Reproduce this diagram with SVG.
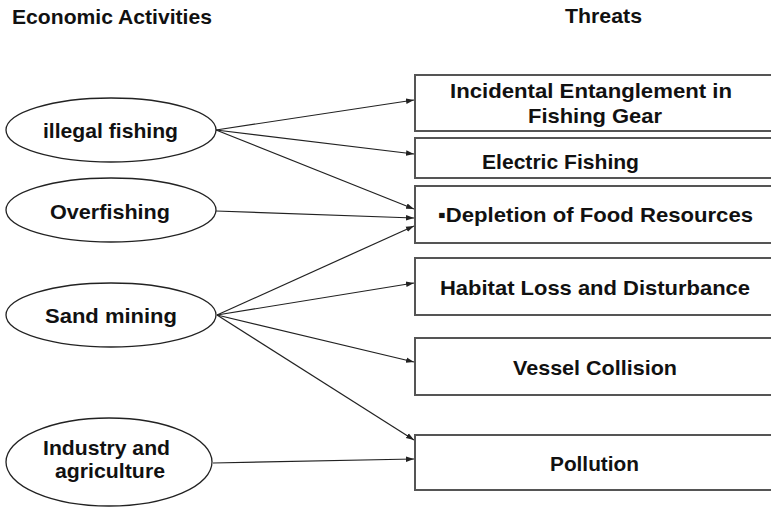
<svg xmlns="http://www.w3.org/2000/svg" width="771" height="510" viewBox="0 0 771 510">
<style>
text{font-family:"Liberation Sans",Arial,sans-serif;font-weight:bold;font-size:21px;fill:#111;}
.ell{fill:#fff;stroke:#222;stroke-width:1.3;}
.box{fill:#fff;stroke:#555;stroke-width:2;}
.con{stroke:#222;stroke-width:1.2;fill:none;marker-end:url(#ah);}
</style>
<defs>
<marker id="ah" viewBox="0 0 10 10" refX="10" refY="5" markerWidth="8" markerHeight="8" markerUnits="userSpaceOnUse" orient="auto">
<path d="M0,1.5 L10,5 L0,8.5 Z" fill="#222"/>
</marker>
</defs>
<rect width="771" height="510" fill="#fff"/>
<g id="headers">
<text x="12" y="24" textLength="200" lengthAdjust="spacingAndGlyphs">Economic Activities</text>
<text x="565" y="23" textLength="77" lengthAdjust="spacingAndGlyphs">Threats</text>
</g>
<g id="connectors">
<line class="con" x1="216" y1="130" x2="414" y2="100"/>
<line class="con" x1="216" y1="130" x2="414" y2="154"/>
<line class="con" x1="216" y1="130" x2="414" y2="209"/>
<line class="con" x1="216" y1="211" x2="414" y2="218"/>
<line class="con" x1="217" y1="315" x2="414" y2="226"/>
<line class="con" x1="217" y1="315" x2="414" y2="283"/>
<line class="con" x1="217" y1="315" x2="414" y2="362"/>
<line class="con" x1="217" y1="315" x2="414" y2="440"/>
<line class="con" x1="213" y1="463" x2="414" y2="459"/>
</g>
<g id="act-illegal">
<ellipse class="ell" cx="111" cy="130" rx="105" ry="32"/>
<text x="43" y="138" textLength="135" lengthAdjust="spacingAndGlyphs">illegal fishing</text>
</g>
<g id="act-overfishing">
<ellipse class="ell" cx="111" cy="210" rx="105" ry="32"/>
<text x="50" y="219" textLength="120" lengthAdjust="spacingAndGlyphs">Overfishing</text>
</g>
<g id="act-sand">
<ellipse class="ell" cx="111" cy="315" rx="105" ry="32"/>
<text x="45" y="323" textLength="132" lengthAdjust="spacingAndGlyphs">Sand mining</text>
</g>
<g id="act-industry">
<ellipse class="ell" cx="109" cy="462" rx="103" ry="44"/>
<text x="43" y="455" textLength="127" lengthAdjust="spacingAndGlyphs">Industry and</text>
<text x="55" y="478" textLength="110" lengthAdjust="spacingAndGlyphs">agriculture</text>
</g>
<g id="thr-entanglement">
<rect class="box" x="415" y="75" width="370" height="56"/>
<text x="450" y="98" textLength="282" lengthAdjust="spacingAndGlyphs">Incidental Entanglement in</text>
<text x="528" y="123" textLength="134" lengthAdjust="spacingAndGlyphs">Fishing Gear</text>
</g>
<g id="thr-electric">
<rect class="box" x="415" y="138" width="370" height="40"/>
<text x="482" y="169" textLength="157" lengthAdjust="spacingAndGlyphs">Electric Fishing</text>
</g>
<g id="thr-depletion">
<rect class="box" x="415" y="186" width="370" height="57"/>
<text x="438" y="222" textLength="315" lengthAdjust="spacingAndGlyphs">▪Depletion of Food Resources</text>
</g>
<g id="thr-habitat">
<rect class="box" x="415" y="258" width="370" height="57"/>
<text x="440" y="295" textLength="310" lengthAdjust="spacingAndGlyphs">Habitat Loss and Disturbance</text>
</g>
<g id="thr-vessel">
<rect class="box" x="415" y="338" width="370" height="57"/>
<text x="513" y="375" textLength="164" lengthAdjust="spacingAndGlyphs">Vessel Collision</text>
</g>
<g id="thr-pollution">
<rect class="box" x="415" y="435" width="370" height="55"/>
<text x="550" y="471" textLength="89" lengthAdjust="spacingAndGlyphs">Pollution</text>
</g>
</svg>
